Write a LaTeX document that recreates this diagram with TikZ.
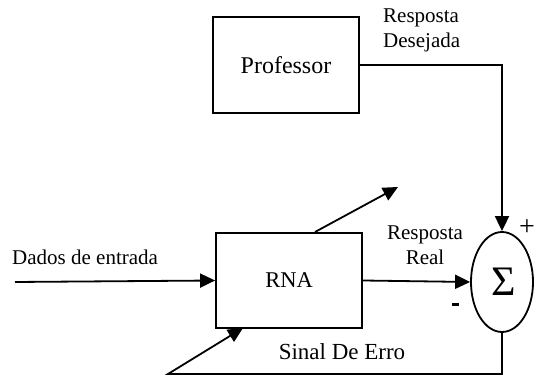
\documentclass[tikz,border=0pt]{standalone}
\usepackage{fontspec}
\setmainfont{Liberation Serif}
\usetikzlibrary{arrows.meta,shapes.geometric,calc}
\begin{document}
\begin{tikzpicture}[x=1pt,y=1pt,
  block/.style={draw,line width=1.8pt,rectangle,inner sep=0pt},
  wire/.style={line width=1.8pt},
  arr/.style={wire,-{Triangle[length=15pt,width=14pt]}},
  lbl/.style={inner sep=0pt,font=\fontsize{21}{25}\selectfont}]
\useasboundingbox (0,0) rectangle (535,379);

\node[block,minimum width=146,minimum height=96,font=\fontsize{24}{28}\selectfont] (prof) at (286,314) {Professor};
\node[block,minimum width=146,minimum height=95,font=\fontsize{22.5}{26}\selectfont] (rna) at (289,98.5) {RNA};
\node[draw,line width=1.8pt,ellipse,minimum width=62,minimum height=100,inner sep=0pt] (sum) at (502,97) {};
\node[inner sep=0pt,font=\fontsize{42}{44}\selectfont] (sigma) at (504,97) {Σ};

\coordinate (in) at (15,97);
\coordinate (wstart) at (315,147);
\coordinate (wend) at (398,192);
\coordinate (fbcorner) at (168,5);
\coordinate (fbtip) at (243,51);

% input data
\draw[arr] (in) -- (rna.west);
\node[lbl,anchor=west] (lin) at (12,122) {Dados de entrada};

% desired response from the teacher
\draw[arr] (prof.east) -| (sum.north);
\node[lbl,anchor=west,align=left] (ldes) at (383,349) {Resposta\\Desejada};

% actual response of the network
\draw[arr] (rna.east) -- (sum.west);
\node[lbl,align=center] (lreal) at (425,134) {Resposta\\Real};

% weight adjustment arrow
\draw[arr] (wstart) -- (wend);

% error signal feedback
\draw[arr] (sum.south) |- (fbcorner) -- (fbtip);
\node[lbl,font=\fontsize{23}{27}\selectfont] (lerr) at (342,27) {Sinal De Erro};

% signs
\node[lbl,font=\fontsize{28}{30}\selectfont,anchor=east] (plus) at (535,151) {+};
\node[fill,inner sep=0pt,minimum width=7,minimum height=3] (minus) at (455.5,74) {};
\end{tikzpicture}
\end{document}
